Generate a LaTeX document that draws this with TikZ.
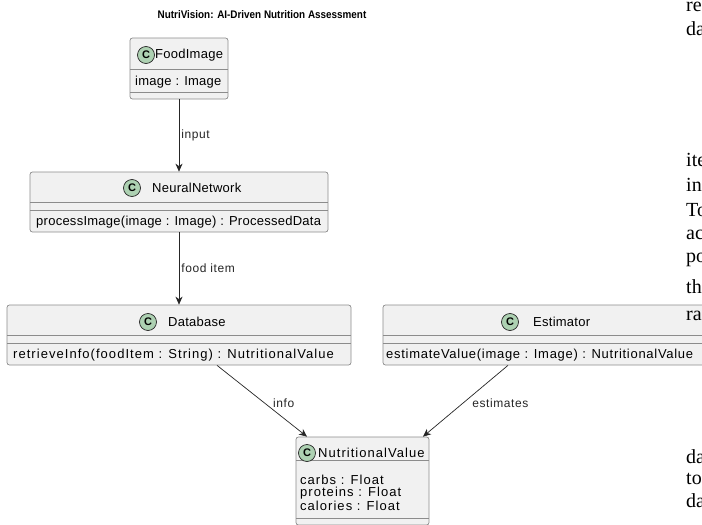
\documentclass[tikz,border=0pt]{standalone}
\usepackage{fontspec}
\setmainfont{Liberation Serif}
\setsansfont{Liberation Sans}
\newfontfamily\umlfont[LetterSpace=2]{Liberation Sans}
\newfontfamily\umlmid[LetterSpace=5.5]{Liberation Sans}
\newfontfamily\umlwide[LetterSpace=8]{Liberation Sans}
\newfontfamily\umllabel[LetterSpace=5]{Liberation Sans}
\usepackage{graphicx}
\usepackage[HTML]{xcolor}
\usetikzlibrary{positioning, arrows.meta}
\definecolor{boxfill}{HTML}{F1F1F1}
\definecolor{boxline}{HTML}{8C8C8C}
\definecolor{circfill}{HTML}{ADD1B2}

\begin{document}
\begin{tikzpicture}[x=1pt,y=-1pt,
  classbox/.style={draw=boxline, fill=boxfill, rounded corners=2.5pt, line width=0.7pt, inner sep=0pt},
  stereo/.style={circle, draw=black!85, fill=circfill, line width=0.7pt, minimum size=17pt, inner sep=0pt, font=\sffamily\bfseries\fontsize{11}{11}\selectfont},
  cname/.style={font=\umlfont\fontsize{13}{15}\selectfont, inner sep=0pt, anchor=west},
  member/.style={font=\umlfont\fontsize{13}{15}\selectfont, inner sep=0pt, anchor=west},
  memberwide/.style={member, font=\umlwide\fontsize{13}{15}\selectfont},
  sep/.style={draw=boxline, line width=0.7pt},
  arr/.style={-{Stealth[length=8pt,width=7pt,inset=2.5pt]}, line width=0.7pt, black!85},
  elabel/.style={font=\umllabel\fontsize{12}{14}\selectfont, inner sep=0pt, anchor=west},
  frag/.style={font=\fontsize{20}{22}\selectfont, inner sep=0pt, anchor=west}
]
\useasboundingbox[fill=white] (0,0) rectangle (702,525);

% --- Title ---
\node[font=\sffamily\bfseries\fontsize{11}{13}\selectfont] (title) at (262,15) {\scalebox{0.9}[1]{NutriVision: AI-Driven Nutrition Assessment}};

% --- Class boxes ---
\node[classbox, minimum width=98pt, minimum height=61pt] (food) at (179,68.5) {};
\node[classbox, minimum width=298pt, minimum height=60pt] (neural) at (179,202) {};
\node[classbox, minimum width=344pt, minimum height=60pt] (db) at (179,335) {};
\node[classbox, minimum width=323pt, minimum height=60pt] (est) at (544.5,335) {};
\node[classbox, minimum width=133pt, minimum height=88pt] (nv) at (362.5,481) {};

% --- Compartment lines ---
\draw[sep] (130,69)--(228,69); \draw[sep] (130,92)--(228,92);
\draw[sep] (30,202)--(328,202); \draw[sep] (30,210)--(328,210);
\draw[sep] (7,335)--(351,335); \draw[sep] (7,343)--(351,343);
\draw[sep] (383,335)--(706,335); \draw[sep] (383,343)--(706,343);
\draw[sep] (296,460)--(429,460); \draw[sep] (296,518)--(429,518);

% --- Headers ---
\node[stereo] (foodc) at (146,55) {C};
\node[cname] (foodn) at (155,55) {FoodImage};
\node[stereo] (neuralc) at (132,188) {C};
\node[cname] (neuraln) at (152,188) {NeuralNetwork};
\node[stereo] (dbc) at (148,322) {C};
\node[cname] (dbn) at (168,322) {Database};
\node[stereo] (estc) at (510,322) {C};
\node[cname] (estn) at (533,322) {Estimator};
\node[stereo] (nvc) at (307,453) {C};
\node[cname, font=\umlwide\fontsize{13}{15}\selectfont] (nvn) at (318,453) {NutritionalValue};

% --- Members ---
\node[member] (foodm) at (135,82) {image : Image};
\node[member] (neuralm) at (36,222) {processImage(image : Image) : ProcessedData};
\node[memberwide] (dbm) at (13,355) {retrieveInfo(foodItem : String) : NutritionalValue};
\node[member, font=\umlmid\fontsize{13}{15}\selectfont] (estm) at (386,355) {estimateValue(image : Image) : NutritionalValue};
\node[memberwide] (nvm1) at (300,480) {carbs : Float};
\node[memberwide] (nvm2) at (300,493) {proteins : Float};
\node[memberwide] (nvm3) at (300,506) {calories : Float};

% --- Relations ---
\draw[arr] (food.south) -- (neural.north) node[elabel, midway, xshift=2pt] {input};
\draw[arr] (neural.south) -- (db.north) node[elabel, midway, xshift=2pt] {food item};
\draw[arr] ([xshift=38pt]db.south) -- ([xshift=-55.5pt]nv.north) node[elabel, pos=0.53, xshift=8pt] {info};
\draw[arr] ([xshift=-36.5pt]est.south) -- ([xshift=60.5pt]nv.north) node[elabel, pos=0.53, xshift=9pt] {estimates};

% --- Text fragments at right edge ---
\node[frag] at (686,7) {re};
\node[frag] at (686,29) {da};
\node[frag] at (686,160) {ite};
\node[frag] at (686,185) {in};
\node[frag] at (686,210) {To};
\node[frag] at (686,235) {ac};
\node[frag] at (686,260) {po};
\node[frag] at (686,287) {th};
\node[frag] at (686,316) {ra};
\node[frag] at (686,457) {da};
\node[frag] at (686,479) {to};
\node[frag] at (686,501) {da};
\end{tikzpicture}
\end{document}
